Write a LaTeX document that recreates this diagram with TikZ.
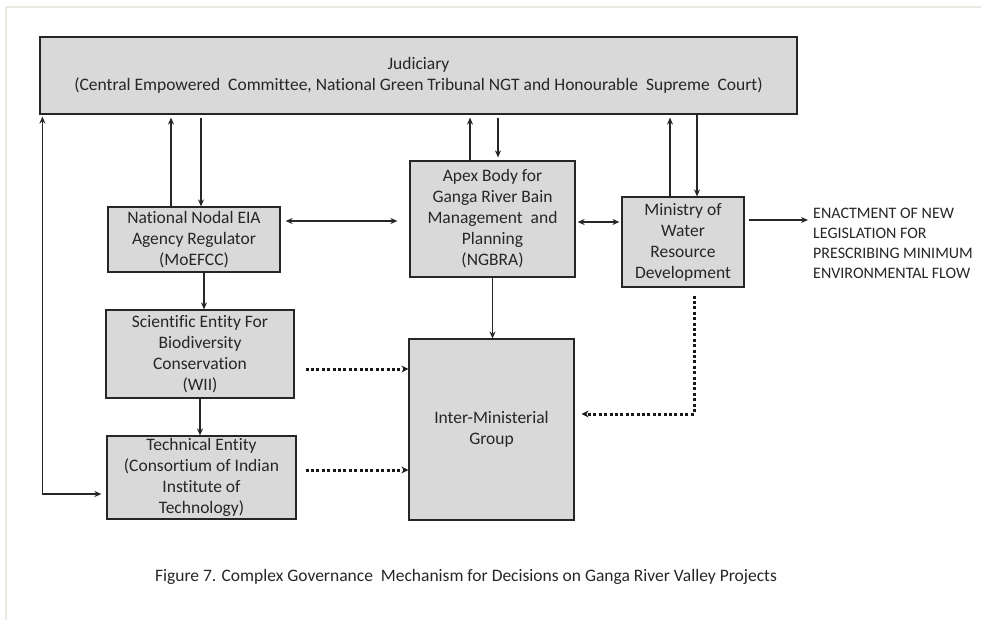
\documentclass[tikz,border=0pt]{standalone}
\usepackage{fontspec}
\setmainfont{Carlito}[Ligatures=NoCommon]
\usetikzlibrary{arrows.meta}
\definecolor{boxgray}{HTML}{D9D9D9}
\definecolor{linegray}{HTML}{262626}
\definecolor{framegray}{HTML}{ECE9E3}
\begin{document}
\begin{tikzpicture}[x=1pt, y=-1pt, font=\fontsize{17.5}{21}\selectfont]
      \tikzset{
	  box/.style={draw=linegray, line width=1.2pt, fill=boxgray, inner sep=0pt, align=center, text=black!85},
	  flow/.style={draw=linegray, line width=1.1pt, -{Stealth[length=7pt,width=6pt]}},
	  flowboth/.style={flow, {Stealth[length=7pt,width=6pt]}-{Stealth[length=7pt,width=6pt]}},
	  dotflow/.style={draw=black!90, line width=3pt, dash pattern=on 3pt off 2.4pt, -{Stealth[length=7pt,width=7pt]}}
      }
      \useasboundingbox (0,0) rectangle (981,620);
      \draw[framegray, line width=1.5pt] (981,7) -- (6,7) -- (6,620);

      \node[box, minimum width=757pt, minimum height=77pt] (jud) at (418.5,75.5)
        {Judiciary\\(Central Empowered\ \ Committee, National Green Tribunal NGT and Honourable\ \ Supreme\ \ Court)};
      \node[box, minimum width=172pt, minimum height=65pt] (nodal) at (194,239.5)
        {National Nodal EIA\\Agency Regulator\\(MoEFCC)};
      \node[box, minimum width=165pt, minimum height=116pt] (apex) at (492.5,219)
        {Apex Body for\\Ganga River Bain\\Management\ \ and\\Planning\\(NGBRA)};
      \node[box, minimum width=122pt, minimum height=90pt] (minis) at (683,242)
        {Ministry of\\Water\\Resource\\Development};
      \node[box, minimum width=188pt, minimum height=88pt] (sci) at (200,354)
        {Scientific Entity For\\Biodiversity\\Conservation\\(WII)};
      \node[box, minimum width=189pt, minimum height=83pt] (tech) at (201.5,477.5)
        {Technical Entity\\(Consortium of Indian\\Institute of\\Technology)};
      \node[box, minimum width=165pt, minimum height=181pt] (img) at (491.5,429.5)
        {Inter-Ministerial\\Group};
      \node[anchor=west, inner sep=0pt, align=left, text=black!85, font=\fontsize{16}{20}\selectfont] (enact) at (813,243.5)
        {ENACTMENT OF NEW\\LEGISLATION FOR\\PRESCRIBING MINIMUM\\ENVIRONMENTAL FLOW};
      \node[text=black!85] (cap) at (466,577)
        {Figure 7. Complex Governance\ \ Mechanism for Decisions on Ganga River Valley Projects};

      % judiciary links
      \draw[flow, shorten >=3pt] ([xshift=-23pt]nodal.north) -- ([xshift=-23pt]nodal.north |- jud.south);
      \draw[flow, shorten <=3pt] ([xshift=7pt]nodal.north |- jud.south) -- ([xshift=7pt]nodal.north);
      \draw[flow, shorten >=3pt] ([xshift=-22.5pt]apex.north) -- ([xshift=-22.5pt]apex.north |- jud.south);
      \draw[flow, shorten <=3pt, shorten >=3pt] ([xshift=5.5pt]apex.north |- jud.south) -- ([xshift=5.5pt]apex.north);
      \draw[flow, shorten >=3pt] ([xshift=-13pt]minis.north) -- ([xshift=-13pt]minis.north |- jud.south);
      \draw[flow] ([xshift=14pt]minis.north |- jud.south) -- ([xshift=14pt]minis.north);
      \draw[flowboth] ([xshift=-5pt,yshift=-16.5pt]tech.west) -| ([xshift=3pt,yshift=-2pt]jud.south west);

      % side links
      \draw[flowboth, shorten <=5pt, shorten >=12pt] ([yshift=18.5pt]nodal.east) -- ([yshift=18.5pt]apex.west |- nodal.east);
      \draw[flowboth, shorten <=2pt, shorten >=2pt] ([yshift=-3pt]apex.east) -- ([yshift=-3pt]minis.west |- apex.east);
      \draw[flow, shorten <=4pt] ([yshift=22pt]minis.east) -- ([xshift=-5pt,yshift=23.5pt]enact.west);

      % downward links
      \draw[flow] (apex.south) -- (apex.south |- img.north);
      \draw[flow] ([xshift=10pt]nodal.south) -- ([xshift=10pt]nodal.south |- sci.north);
      \draw[flow] (sci.south) -- (sci.south |- tech.north);

      % dotted links
      \draw[dotflow, shorten <=11pt] ([yshift=-15pt]sci.east) -- ([yshift=-15pt]img.west |- sci.east);
      \draw[dotflow, shorten <=9pt] ([yshift=7.5pt]tech.east) -- ([yshift=7.5pt]img.west |- tech.east);
      \draw[dotflow] ([xshift=11pt,yshift=-8pt]minis.south) |- ([xshift=7pt,yshift=15.5pt]img.east);
\end{tikzpicture}
\end{document}
